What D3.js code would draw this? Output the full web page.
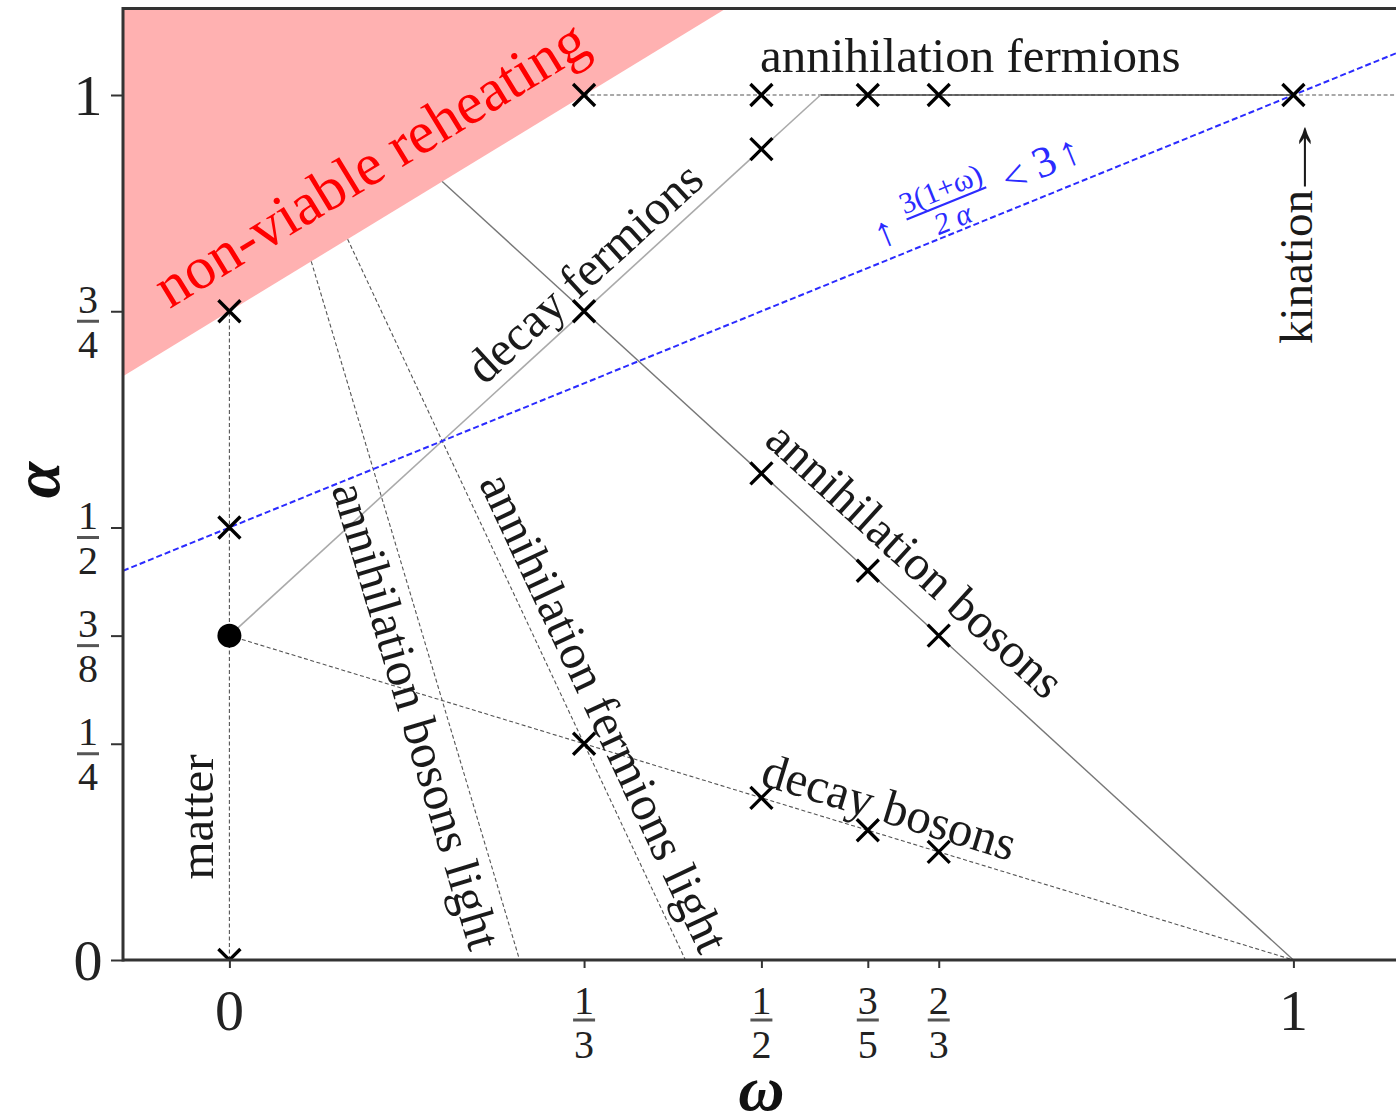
<!DOCTYPE html>
<html><head><meta charset="utf-8">
<script src="https://cdn.jsdelivr.net/npm/d3@7"></script>
<style>body{margin:0;background:#fff} svg{display:block}</style>
</head><body>
<svg id="c" width="1396" height="1120"></svg>
<script>
// ---------- data ----------
const xTicks = [0, 1/3, 1/2, 3/5, 2/3, 1];
const xTickLabels = ["0", "1/3", "1/2", "3/5", "2/3", "1"];
const yTicks = [0, 1/4, 3/8, 1/2, 3/4, 1];
const yTickLabels = ["0", "1/4", "3/8", "1/2", "3/4", "1"];

// non-viable region, bounded by α = 3(1+ω)/4
const nonViableRegion = [[-0.1, 0.675], [-0.1, 1.1], [0.4667, 1.1]];
// blue condition line α = (1+ω)/2
const blueLine = [[-0.1, 0.45], [1.2, 1.1]];

const segments = [
  {name: "annihilation fermions (ext)", pts: [[1/3, 1], [1.2, 1]], kind: "dash"},
  {name: "annihilation fermions", pts: [[5/9, 1], [1, 1]], kind: "solidDark"},
  {name: "decay fermions", pts: [[0, 3/8], [5/9, 1]], kind: "solidLight"},
  {name: "annihilation bosons", pts: [[0.2, 0.9], [1, 0]], kind: "solidMid"},
  {name: "decay bosons", pts: [[0, 3/8], [1, 0]], kind: "dash"},
  {name: "annihilation bosons light", pts: [[1/13, 21/26], [3/11, 0]], kind: "dash"},
  {name: "annihilation fermions light", pts: [[1/9, 5/6], [3/7, 0]], kind: "dash"},
  {name: "matter", pts: [[0, 0], [0, 3/4]], kind: "dash"}
];

const crossPoints = [[1/3, 1], [1/2, 1], [3/5, 1], [2/3, 1], [1, 1],
  [1/2, 15/16], [1/3, 3/4], [0, 3/4], [0, 1/2], [0, 0],
  [1/3, 1/4], [1/2, 3/16], [3/5, 0.15], [2/3, 1/8],
  [1/2, 9/16], [3/5, 0.45], [2/3, 3/8]];
const dotPoints = [[0, 3/8]];

const lineLabels = [
  {text: "annihilation fermions", at: [0.6964, 1.046], along: null},
  {text: "decay fermions", at: [0.3335, 0.795], along: [[0, 3/8], [5/9, 1]]},
  {text: "annihilation bosons", at: [0.6447, 0.4626], along: [[0.2, 0.9], [1, 0]]},
  {text: "decay bosons", at: [0.6203, 0.1769], along: [[0, 3/8], [1, 0]]},
  {text: "annihilation bosons light", at: [0.1758, 0.2825], along: [[1/13, 21/26], [3/11, 0]]},
  {text: "annihilation fermions light", at: [0.3524, 0.2862], along: [[1/9, 5/6], [3/7, 0]]},
  {text: "matter", at: [-0.031, 0.1653], rot: -90}
];
const kinationLabel = {text: "kination", arrow: "→", at: [1.0028, 0.8416]};
const regionLabel = {text: "non-viable reheating", at: [0.1325, 0.921], along: [[-0.1, 0.675], [0.4667, 1.1]]};
const blueLabelAt = [0.703, 0.888];

// ---------- drawing ----------
const svg = d3.select("#c");
const x = d3.scaleLinear().domain([-0.1, 1.1]).range([123, 1399.8]);
const y = d3.scaleLinear().domain([0, 1.1]).range([960, 8.5]);
const serif = "'Liberation Serif', 'Times New Roman', serif";

svg.append("defs").append("clipPath").attr("id", "plot")
  .append("rect").attr("x", x(-0.1)).attr("y", y(1.1)).attr("width", x(1.1) - x(-0.1)).attr("height", y(0) - y(1.1));

const plot = svg.append("g").attr("clip-path", "url(#plot)");

const line = d3.line().x(d => x(d[0])).y(d => y(d[1]));
const area = d3.line().x(d => x(d[0])).y(d => y(d[1])).curve(d3.curveLinearClosed);

plot.append("path").datum(nonViableRegion).attr("d", area).attr("fill", "#ffb1b1");

const styles = {
  dash: {stroke: "#555", w: 1.1, dash: "4,2.5"},
  solidDark: {stroke: "#444", w: 1.6, dash: null},
  solidLight: {stroke: "#aaa", w: 1.6, dash: null},
  solidMid: {stroke: "#777", w: 1.4, dash: null}
};
plot.selectAll("path.seg").data(segments).join("path").attr("class", "seg")
  .attr("d", d => line(d.pts))
  .attr("fill", "none")
  .attr("stroke", d => styles[d.kind].stroke)
  .attr("stroke-width", d => styles[d.kind].w)
  .attr("stroke-dasharray", d => styles[d.kind].dash);

plot.append("path").datum(blueLine).attr("d", line)
  .attr("fill", "none").attr("stroke", "#2b2bff").attr("stroke-width", 2)
  .attr("stroke-dasharray", "6,3");

// crosses
const cs = 11;
plot.selectAll("path.cross").data(crossPoints).join("path").attr("class", "cross")
  .attr("d", d => {
    const cx = x(d[0]), cy = y(d[1]);
    return `M${cx - cs},${cy - cs}L${cx + cs},${cy + cs}M${cx - cs},${cy + cs}L${cx + cs},${cy - cs}`;
  })
  .attr("stroke", "#000").attr("stroke-width", 3.3).attr("fill", "none");

plot.selectAll("circle.dot").data(dotPoints).join("circle").attr("class", "dot")
  .attr("cx", d => x(d[0])).attr("cy", d => y(d[1])).attr("r", 12).attr("fill", "#000");

// angle helper
function angleOf(seg) {
  const dx = x(seg[1][0]) - x(seg[0][0]);
  const dy = y(seg[1][1]) - y(seg[0][1]);
  return Math.atan2(dy, dx) * 180 / Math.PI;
}

// labels
const lab = svg.append("g").attr("font-family", serif);
lab.selectAll("text.ll").data(lineLabels).join("text").attr("class", "ll")
  .attr("transform", d => {
    const a = d.along ? angleOf(d.along) : (d.rot || 0);
    return `translate(${x(d.at[0])},${y(d.at[1])}) rotate(${a})`;
  })
  .attr("text-anchor", "middle").attr("dominant-baseline", "central")
  .attr("font-size", 49).attr("fill", "#1a1a1a")
  .text(d => d.text);

// kination + long arrow
const kg = lab.append("g")
  .attr("transform", `translate(${x(kinationLabel.at[0])},${y(kinationLabel.at[1])}) rotate(-90)`)
  .attr("fill", "#1a1a1a");
kg.append("text").attr("x", 42).attr("y", 0).attr("text-anchor", "end").attr("dominant-baseline", "central")
  .attr("font-size", 47).text(kinationLabel.text);
kg.append("g").attr("transform", "translate(25,0) scale(2.04,1)")
  .append("text").attr("x", 0).attr("y", 0).attr("text-anchor", "start").attr("dominant-baseline", "central")
  .attr("font-size", 49).text(kinationLabel.arrow);

lab.append("text")
  .attr("transform", `translate(${x(regionLabel.at[0])},${y(regionLabel.at[1])}) rotate(${angleOf(regionLabel.along)})`)
  .attr("text-anchor", "middle").attr("dominant-baseline", "central")
  .attr("font-size", 60).attr("fill", "#ff0000")
  .text(regionLabel.text);

// blue condition label
const bg = svg.append("g").attr("font-family", serif).attr("fill", "#2b2bff")
  .attr("transform", `translate(${x(blueLabelAt[0])},${y(blueLabelAt[1])}) rotate(${angleOf(blueLine)})`);
bg.append("text").attr("x", -101).attr("y", 2).attr("text-anchor", "middle").attr("dominant-baseline", "central")
  .attr("font-size", 42).text("↑");
bg.append("text").attr("x", -33).attr("y", -17).attr("text-anchor", "middle").attr("dominant-baseline", "central")
  .attr("font-size", 30).text("3(1+ω)");
bg.append("line").attr("x1", -76).attr("x2", 10).attr("y1", -1).attr("y2", -1).attr("stroke", "#2b2bff").attr("stroke-width", 2.2);
bg.append("text").attr("x", -33).attr("y", 15).attr("text-anchor", "middle").attr("dominant-baseline", "central")
  .attr("font-size", 30).attr("font-style", "italic").text("2 α");
bg.append("text").attr("x", 40).attr("y", 0).attr("text-anchor", "middle").attr("dominant-baseline", "central")
  .attr("font-size", 42).text("<");
bg.append("text").attr("x", 73).attr("y", -3).attr("text-anchor", "middle").attr("dominant-baseline", "central")
  .attr("font-size", 44).text("3");
bg.append("text").attr("x", 100).attr("y", -3).attr("text-anchor", "middle").attr("dominant-baseline", "central")
  .attr("font-size", 42).text("↑");

// axes (ticks only)
const xAxis = d3.axisBottom(x).tickValues(xTicks).tickSize(8).tickFormat("");
const yAxis = d3.axisLeft(y).tickValues(yTicks).tickSize(12).tickFormat("");
const gx = svg.append("g").attr("transform", `translate(0,${y(0)})`).call(xAxis);
const gy = svg.append("g").attr("transform", `translate(${x(-0.1)},0)`).call(yAxis);
[gx, gy].forEach(g => {
  g.select(".domain").remove();
  g.selectAll(".tick line").attr("stroke", "#333").attr("stroke-width", 2);
});

function fraction(g, label, cx, cy, big, frac) {
  const parts = label.split("/");
  if (parts.length === 1) {
    g.append("text").attr("x", cx).attr("y", cy).attr("text-anchor", "middle").attr("dominant-baseline", "central")
      .attr("font-family", serif).attr("font-size", big).attr("fill", "#222").text(label);
  } else {
    g.append("text").attr("x", cx).attr("y", cy + frac.num).attr("text-anchor", "middle").attr("dominant-baseline", "central")
      .attr("font-family", serif).attr("font-size", 40).attr("fill", "#222").text(parts[0]);
    g.append("line").attr("x1", cx - 11).attr("x2", cx + 11).attr("y1", cy + frac.bar).attr("y2", cy + frac.bar)
      .attr("stroke", "#555").attr("stroke-width", 3);
    g.append("text").attr("x", cx).attr("y", cy + frac.den).attr("text-anchor", "middle").attr("dominant-baseline", "central")
      .attr("font-family", serif).attr("font-size", 40).attr("fill", "#222").text(parts[1]);
  }
}
const tl = svg.append("g");
xTicks.forEach((v, i) => fraction(tl, xTickLabels[i], x(v), 1010, 58, {num: -10, bar: 10, den: 34}));
yTicks.forEach((v, i) => fraction(tl, yTickLabels[i], 88, y(v), 58, {num: -12, bar: 10, den: 33}));

// spines
const sp = svg.append("g").attr("stroke", "#333").attr("stroke-width", 3).attr("fill", "none");
sp.append("line").attr("x1", x(-0.1)).attr("x2", x(-0.1)).attr("y1", y(1.1) - 1.5).attr("y2", y(0) + 1.5);
sp.append("line").attr("x1", x(-0.1)).attr("x2", x(1.1)).attr("y1", y(1.1)).attr("y2", y(1.1));
sp.append("line").attr("x1", x(-0.1)).attr("x2", x(1.1)).attr("y1", y(0)).attr("y2", y(0));

// axis titles
svg.append("text").attr("transform", `translate(36,${y(0.555)}) rotate(-90)`)
  .attr("text-anchor", "middle").attr("dominant-baseline", "central")
  .attr("font-family", serif).attr("font-size", 66).attr("font-weight", "bold").attr("font-style", "italic")
  .attr("fill", "#111").text("α");
svg.append("text").attr("x", x(0.5)).attr("y", 1110)
  .attr("text-anchor", "middle")
  .attr("font-family", serif).attr("font-size", 64).attr("font-weight", "bold").attr("font-style", "italic")
  .attr("fill", "#111").text("ω");
</script>
</body></html>
